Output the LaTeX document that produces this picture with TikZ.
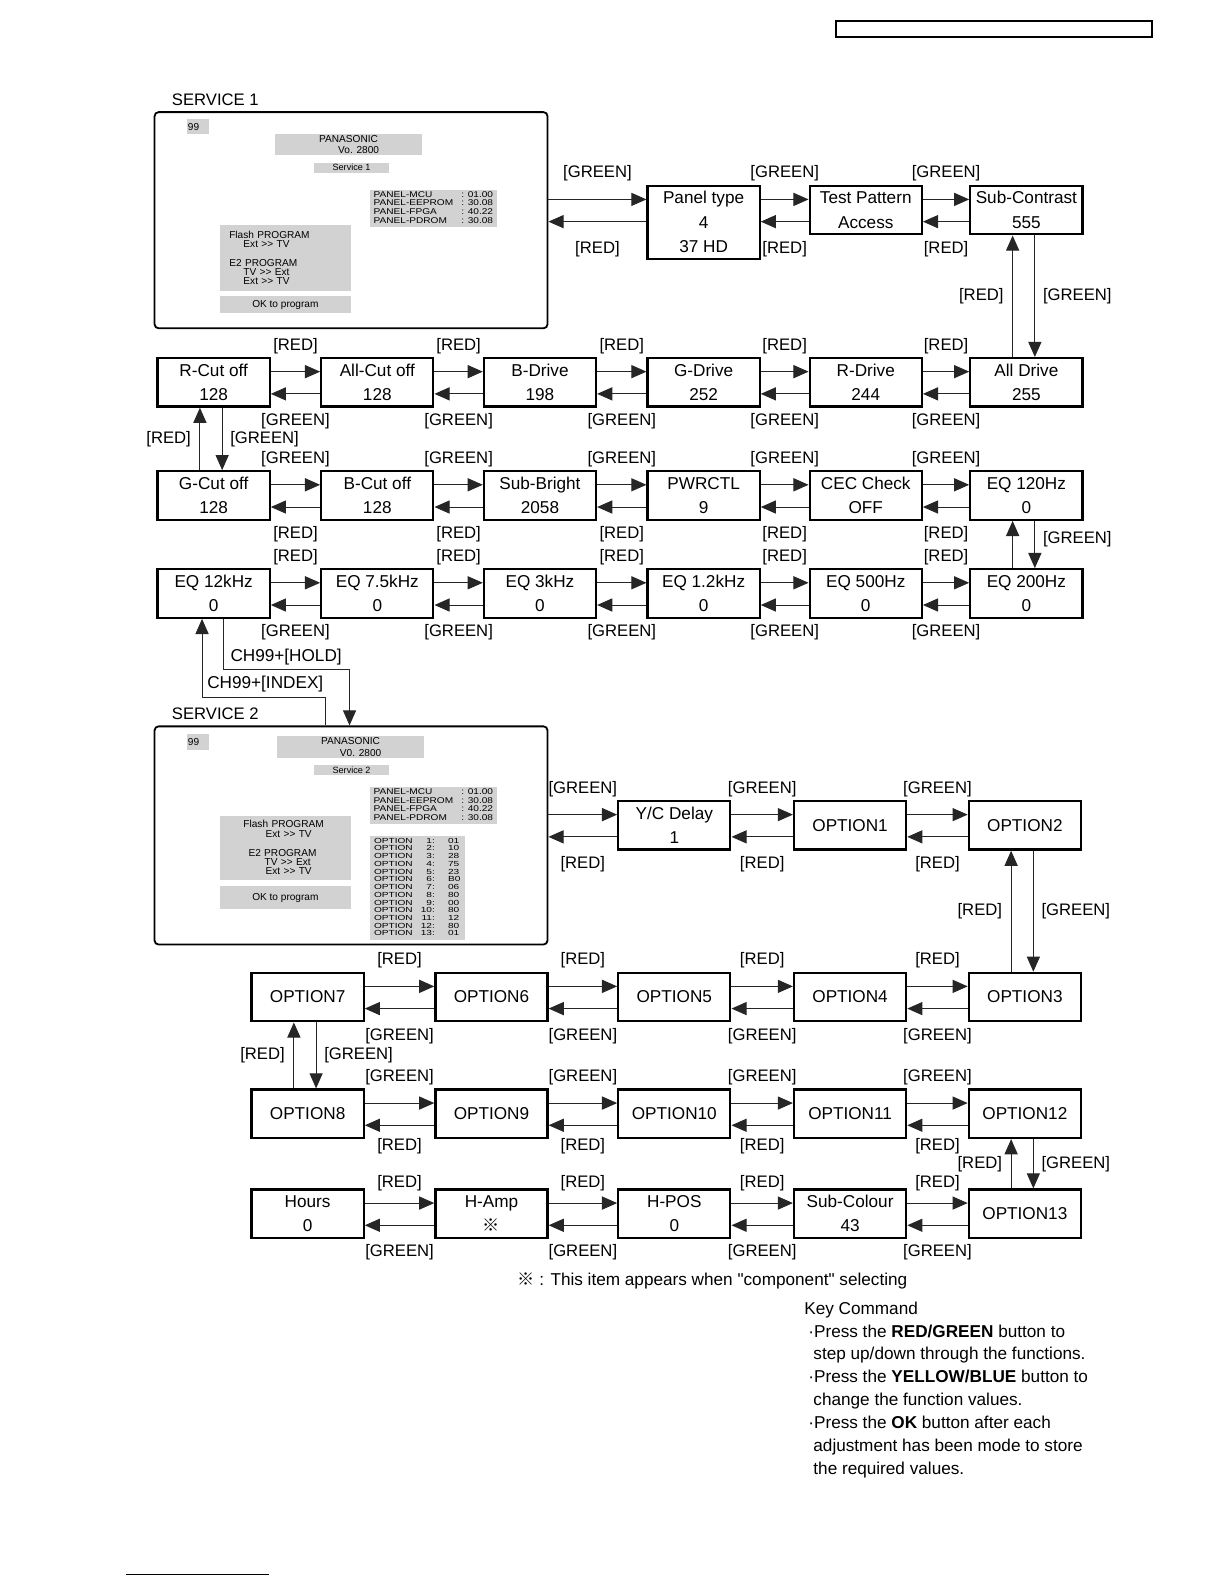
\documentclass[tikz,border=0pt]{standalone}
\usepackage{fontspec}
\setmainfont{Liberation Sans}[Ligatures=TeXOff]
\newfontfamily\cjk{Noto Sans CJK JP}
\usetikzlibrary{arrows.meta, positioning, calc}
\tikzset{
  every picture/.style={x=1pt, y=-1pt, font=\fontsize{17}{24}\selectfont},
  menu/.style={draw, line width=2.2pt, minimum width=111pt, minimum height=48pt, inner xsep=2pt, inner ysep=0pt, align=center},
  arrow/.style={-{Triangle[length=15pt, width=13pt]}, line width=1pt, draw=black!85},
  btn/.style={inner sep=0pt, font=\fontsize{16.5}{20}\selectfont},
  screen/.style={draw, line width=1.8pt, rounded corners=4pt, minimum width=389pt},
  scr/.style={fill=gray!35, inner sep=1pt, font=\fontsize{10}{9}\selectfont},
}
\newcommand{\vs}{\rule[-5.1pt]{0pt}{22pt}}
\newcommand{\two}[2]{\vs#1\\\vs#2}
\newcommand{\refm}{{\cjk ※}}
\newcommand{\tsh}{25.5pt}
\newcommand{\bsh}{-27pt}
% right arrow on top, left arrow below, labels above / below
\newcommand{\lrpair}[4]{%
  \draw[arrow] ($(#1.north east)+(0,14.5)$) -- ($(#2.north west)+(0,14.5)$)
    node[btn, midway, yshift=\tsh] (#1-#2-t) {#3};
  \draw[arrow] ($(#2.north west)+(0,36.5)$) -- ($(#1.north east)+(0,36.5)$)
    node[btn, midway, yshift=\bsh] (#1-#2-b) {#4};}
% up arrow on the left, down arrow on the right
\newcommand{\udpair}[4]{%
  \draw[arrow] ($(#2.north west)+(43,0)$) -- ($(#1.south west)+(43,0)$)
    node[btn, midway, xshift=-31pt] (#1-#2-l) {#3};
  \draw[arrow] ($(#1.south west)+(65,0)$) -- ($(#2.north west)+(65,0)$)
    node[btn, midway, xshift=42pt] (#1-#2-r) {#4};}

\begin{document}
\begin{tikzpicture}
  \useasboundingbox (0,0) rectangle (1212,1568);
  \draw[line width=2pt] (828,21) rectangle (1140,37);
  \draw[line width=0.8pt] (125,1558) -- (266,1558);

  % SERVICE 1 screen
  \node[btn, anchor=west] (s1title) at (170,99) {SERVICE 1};
  \node[screen, minimum height=214pt] (svc1) at (347.5,218) {};
  \node[scr, text width=20pt, minimum height=15pt, align=left] (s1ch) at (196,125.5) {99};
  \node[scr, minimum width=146pt, minimum height=20pt, align=center, font=\fontsize{10}{11}\selectfont] (s1brand) at (345,143) {PANASONIC\\\hspace*{20pt}Vo. 2800};
  \node[scr, minimum width=74pt, minimum height=10pt, inner sep=0pt, font=\fontsize{9}{9}\selectfont] (s1name) at (348,166) {Service 1};
  \node[scr, minimum width=126pt, minimum height=35pt] (s1panel) at (429,206.5) {\scalebox{1}[0.83]{\fontsize{10}{10.5}\selectfont
    \begin{tabular}{@{}l@{\hspace{8pt}}l@{}}PANEL-MCU&: 01.00\\PANEL-EEPROM&: 30.08\\PANEL-FPGA&: 40.22\\PANEL-PDROM&: 30.08\end{tabular}}};
  \node[scr, minimum height=65pt, text width=119pt, inner sep=5pt, align=left] (s1flash) at (282.5,255.5)
    {\hspace*{4pt}Flash PROGRAM\\\hspace*{18pt}Ext >> TV\\[10pt]\hspace*{4pt}E2 PROGRAM\\\hspace*{18pt}TV >> Ext\\\hspace*{18pt}Ext >> TV};
  \node[scr, minimum width=129pt, minimum height=17pt] (s1ok) at (282.5,301.5) {OK to program};

  % first menu rows
  \node[menu, minimum height=72pt] (ptype) at (696.5,220) {\vs Panel type\\\vs 4\\\vs 37 HD};
  \node[menu] (tpat) at (857,208) {\two{Test Pattern}{Access}};
  \node[menu] (scon) at (1016,208) {\two{Sub-Contrast}{555}};

  \node[menu] (rcut) at (211.5,378.5) {\two{R-Cut off}{128}};
  \node[menu] (acut) at (373.5,378.5) {\two{All-Cut off}{128}};
  \node[menu] (bdrv) at (534.5,378.5) {\two{B-Drive}{198}};
  \node[menu] (gdrv) at (696.5,378.5) {\two{G-Drive}{252}};
  \node[menu] (rdrv) at (857,378.5) {\two{R-Drive}{244}};
  \node[menu] (adrv) at (1016,378.5) {\two{All Drive}{255}};

  \node[menu] (gcut) at (211.5,490.5) {\two{G-Cut off}{128}};
  \node[menu] (bcut) at (373.5,490.5) {\two{B-Cut off}{128}};
  \node[menu] (sbri) at (534.5,490.5) {\two{Sub-Bright}{2058}};
  \node[menu] (pwr) at (696.5,490.5) {\two{PWRCTL}{9}};
  \node[menu] (cec) at (857,490.5) {\two{CEC Check}{OFF}};
  \node[menu] (eq120) at (1016,490.5) {\two{EQ 120Hz}{0}};

  \node[menu] (eq12k) at (211.5,587.5) {\two{EQ 12kHz}{0}};
  \node[menu] (eq7k) at (373.5,587.5) {\two{EQ 7.5kHz}{0}};
  \node[menu] (eq3k) at (534.5,587.5) {\two{EQ 3kHz}{0}};
  \node[menu] (eq1k) at (696.5,587.5) {\two{EQ 1.2kHz}{0}};
  \node[menu] (eq500) at (857,587.5) {\two{EQ 500Hz}{0}};
  \node[menu] (eq200) at (1016,587.5) {\two{EQ 200Hz}{0}};

  \coordinate (pin) at ($(ptype.north west)+(0,14.5)$);
  \coordinate (pout) at ($(ptype.north west)+(0,36.5)$);
  \draw[arrow] (svc1.east |- pin) -- (pin) node[btn, midway, yshift=\tsh] (s1-t) {[GREEN]};
  \draw[arrow] (pout) -- (svc1.east |- pout) node[btn, midway, yshift=\bsh] (s1-b) {[RED]};
  \lrpair{ptype}{tpat}{[GREEN]}{[RED]}
  \lrpair{tpat}{scon}{[GREEN]}{[RED]}
  \udpair{scon}{adrv}{[RED]}{[GREEN]}
  \foreach \a/\b in {rcut/acut, acut/bdrv, bdrv/gdrv, gdrv/rdrv, rdrv/adrv}
    {\lrpair{\a}{\b}{[RED]}{[GREEN]}}
  \udpair{rcut}{gcut}{[RED]}{[GREEN]}
  \foreach \a/\b in {gcut/bcut, bcut/sbri, sbri/pwr, pwr/cec, cec/eq120}
    {\lrpair{\a}{\b}{[GREEN]}{[RED]}}
  \draw[arrow] ($(eq200.north west)+(43,0)$) -- ($(eq120.south west)+(43,0)$);
  \draw[arrow] ($(eq120.south west)+(65,0)$) -- ($(eq200.north west)+(65,0)$)
    node[btn, midway, xshift=42pt, yshift=5pt] (eq-r) {[GREEN]};
  \foreach \a/\b in {eq12k/eq7k, eq7k/eq3k, eq3k/eq1k, eq1k/eq500, eq500/eq200}
    {\lrpair{\a}{\b}{[RED]}{[GREEN]}}

  % SERVICE 2 screen
  \node[btn, anchor=west] (s2title) at (170,707) {SERVICE 2};
  \node[screen, minimum height=216pt] (svc2) at (347.5,827) {};
  \node[scr, text width=20pt, minimum height=15pt, align=left] (s2ch) at (196,734.5) {99};
  \node[scr, minimum width=146pt, minimum height=21pt, align=center, font=\fontsize{10}{11}\selectfont] (s2brand) at (347,739.5) {PANASONIC\\\hspace*{20pt}V0. 2800};
  \node[scr, minimum width=74pt, minimum height=10pt, inner sep=0pt, font=\fontsize{9}{9}\selectfont] (s2name) at (348,762) {Service 2};
  \node[scr, minimum width=126pt, minimum height=37pt] (s2panel) at (429,797.5) {\scalebox{1}[0.83]{\fontsize{10}{10.5}\selectfont
    \begin{tabular}{@{}l@{\hspace{8pt}}l@{}}PANEL-MCU&: 01.00\\PANEL-EEPROM&: 30.08\\PANEL-FPGA&: 40.22\\PANEL-PDROM&: 30.08\end{tabular}}};
  \node[scr, minimum width=94pt, minimum height=102pt] (s2opt) at (413,879) {\scalebox{1}[0.73]{\fontsize{10}{10.5}\selectfont
    \begin{tabular}{@{}l@{\hspace{8pt}}r@{\hspace{13pt}}l@{}}
    OPTION&1:&01\\OPTION&2:&10\\OPTION&3:&28\\OPTION&4:&75\\OPTION&5:&23\\OPTION&6:&B0\\OPTION&7:&06\\
    OPTION&8:&80\\OPTION&9:&00\\OPTION&10:&80\\OPTION&11:&12\\OPTION&12:&80\\OPTION&13:&01\end{tabular}}};
  \node[scr, minimum height=58pt, text width=119pt, inner sep=5pt, align=left] (s2flash) at (282.5,839)
    {\hspace*{18pt}Flash PROGRAM\\\hspace*{40pt}Ext >> TV\\[10pt]\hspace*{23pt}E2 PROGRAM\\\hspace*{39pt}TV >> Ext\\\hspace*{40pt}Ext >> TV};
  \node[scr, minimum width=129pt, minimum height=23pt] (s2ok) at (282.5,888.5) {OK to program};

  % links between the two service modes
  \coordinate (idx) at (200,690);
  \coordinate (hold) at (346,663);
  \draw[arrow] ($(svc2.north west)+(170,0)$) |- (idx) -- (idx |- eq12k.south);
  \draw[arrow] ($(eq12k.south west)+(66,0)$) |- (hold) -- (hold |- svc2.north);
  \node[anchor=west, inner sep=0pt] (hold-l) at (228,650) {CH99+[HOLD]};
  \node[anchor=west, inner sep=0pt] (idx-l) at (205,677) {CH99+[INDEX]};

  % second menu rows
  \node[menu] (ycd) at (667.5,817) {\two{Y/C Delay}{1}};
  \node[menu] (opt1) at (841.5,817) {OPTION1};
  \node[menu] (opt2) at (1014.5,817) {OPTION2};

  \node[menu] (opt7) at (304.5,987) {OPTION7};
  \node[menu] (opt6) at (486.5,987) {OPTION6};
  \node[menu] (opt5) at (667.5,987) {OPTION5};
  \node[menu] (opt4) at (841.5,987) {OPTION4};
  \node[menu] (opt3) at (1014.5,987) {OPTION3};

  \node[menu] (opt8) at (304.5,1102.5) {OPTION8};
  \node[menu] (opt9) at (486.5,1102.5) {OPTION9};
  \node[menu] (opt10) at (667.5,1102.5) {OPTION10};
  \node[menu] (opt11) at (841.5,1102.5) {OPTION11};
  \node[menu] (opt12) at (1014.5,1102.5) {OPTION12};

  \node[menu] (hours) at (304.5,1201.5) {\two{Hours}{0}};
  \node[menu] (hamp) at (486.5,1201.5) {\two{H-Amp}{\refm}};
  \node[menu] (hpos) at (667.5,1201.5) {\two{H-POS}{0}};
  \node[menu] (scol) at (841.5,1201.5) {\two{Sub-Colour}{43}};
  \node[menu] (opt13) at (1014.5,1201.5) {OPTION13};

  \coordinate (yin) at ($(ycd.north west)+(0,14.5)$);
  \coordinate (yout) at ($(ycd.north west)+(0,36.5)$);
  \draw[arrow] (svc2.east |- yin) -- (yin) node[btn, midway, yshift=\tsh] (s2-t) {[GREEN]};
  \draw[arrow] (yout) -- (svc2.east |- yout) node[btn, midway, yshift=\bsh] (s2-b) {[RED]};
  \lrpair{ycd}{opt1}{[GREEN]}{[RED]}
  \lrpair{opt1}{opt2}{[GREEN]}{[RED]}
  \udpair{opt2}{opt3}{[RED]}{[GREEN]}
  \foreach \a/\b in {opt7/opt6, opt6/opt5, opt5/opt4, opt4/opt3}
    {\lrpair{\a}{\b}{[RED]}{[GREEN]}}
  \udpair{opt7}{opt8}{[RED]}{[GREEN]}
  \begin{scope}
    \renewcommand{\bsh}{-21pt}
    \foreach \a/\b in {opt8/opt9, opt9/opt10, opt10/opt11, opt11/opt12}
      {\lrpair{\a}{\b}{[GREEN]}{[RED]}}
  \end{scope}
  \udpair{opt12}{opt13}{[RED]}{[GREEN]}
  \begin{scope}
    \renewcommand{\tsh}{20pt}
    \foreach \a/\b in {hours/hamp, hamp/hpos, hpos/scol, scol/opt13}
      {\lrpair{\a}{\b}{[RED]}{[GREEN]}}
  \end{scope}

  % notes
  \node[anchor=west, inner sep=0pt] (fnote) at (512,1268) {\refm\ : This item appears when "component" selecting};
  \foreach \t [count=\i] in {{Key Command},
      {\hspace*{4pt}·Press the \textbf{RED/GREEN} button to},
      {\hspace*{9pt}step up/down through the functions.},
      {\hspace*{4pt}·Press the \textbf{YELLOW/BLUE} button to},
      {\hspace*{9pt}change the function values.},
      {\hspace*{4pt}·Press the \textbf{OK} button after each},
      {\hspace*{9pt}adjustment has been mode to store},
      {\hspace*{9pt}the required values.}}
    \node[inner sep=0pt, anchor=base west] (kc\i) at (796,{1278.4+22.6*\i}) {\t};
\end{tikzpicture}
\end{document}
